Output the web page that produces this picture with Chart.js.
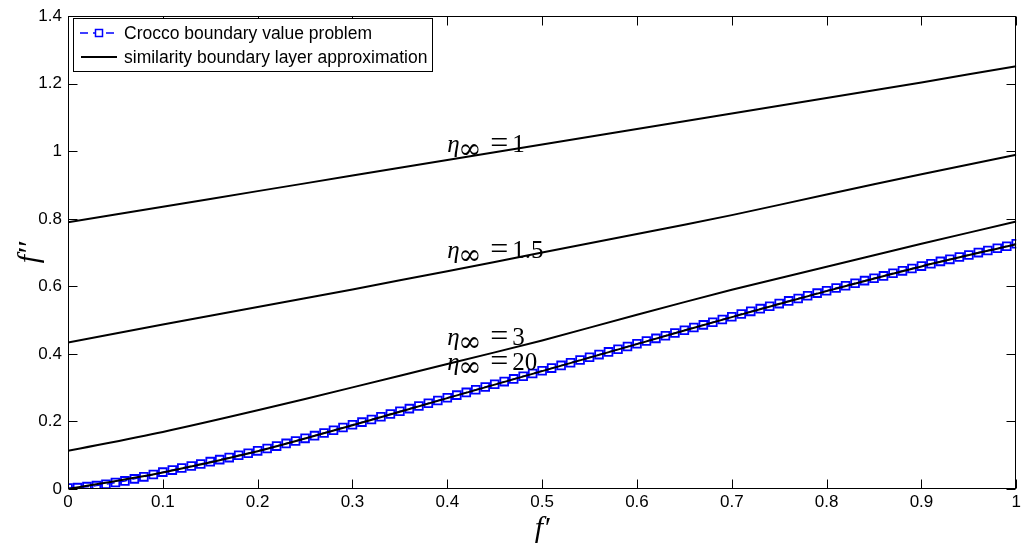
<!DOCTYPE html>
<html><head><meta charset="utf-8">
<script src="https://cdn.jsdelivr.net/npm/chart.js@4.4.0/dist/chart.umd.min.js"></script>
<style>html,body{margin:0;padding:0;background:#fff}#wrap{width:1024px;height:549px}</style>
</head><body><div id="wrap"><canvas id="c" width="1024" height="549"></canvas></div>
<script>
// ---------- data ----------
const fPrime = [0,0.1,0.2,0.3,0.4,0.5,0.6,0.7,0.8,0.9,1];
const eta1   = [0.790,0.836,0.882,0.928,0.974,1.020,1.066,1.112,1.158,1.204,1.252];
const eta15  = [0.434,0.487,0.539,0.591,0.645,0.700,0.755,0.811,0.872,0.932,0.990];
const eta3   = [0.113,0.169,0.233,0.301,0.370,0.440,0.516,0.590,0.658,0.726,0.792];
const eta20  = [0.000,0.049,0.112,0.189,0.269,0.349,0.429,0.509,0.586,0.659,0.725];

const croccoX = [0,0.01,0.02,0.03,0.04,0.05,0.06,0.07,0.08,0.09,
  0.10,0.11,0.12,0.13,0.14,0.15,0.16,0.17,0.18,0.19,
  0.20,0.21,0.22,0.23,0.24,0.25,0.26,0.27,0.28,0.29,
  0.30,0.31,0.32,0.33,0.34,0.35,0.36,0.37,0.38,0.39,
  0.40,0.41,0.42,0.43,0.44,0.45,0.46,0.47,0.48,0.49,
  0.50,0.51,0.52,0.53,0.54,0.55,0.56,0.57,0.58,0.59,
  0.60,0.61,0.62,0.63,0.64,0.65,0.66,0.67,0.68,0.69,
  0.70,0.71,0.72,0.73,0.74,0.75,0.76,0.77,0.78,0.79,
  0.80,0.81,0.82,0.83,0.84,0.85,0.86,0.87,0.88,0.89,
  0.90,0.91,0.92,0.93,0.94,0.95,0.96,0.97,0.98,0.99,1.00];
const croccoY = [0.003,0.004,0.007,0.010,0.014,0.019,0.024,0.030,0.036,0.043,
  0.050,0.056,0.062,0.068,0.074,0.081,0.087,0.093,0.100,0.106,
  0.113,0.120,0.127,0.135,0.142,0.150,0.158,0.166,0.174,0.182,
  0.190,0.198,0.206,0.214,0.222,0.230,0.238,0.246,0.254,0.262,
  0.270,0.278,0.286,0.294,0.302,0.310,0.318,0.326,0.334,0.342,
  0.350,0.358,0.366,0.374,0.382,0.390,0.398,0.406,0.414,0.422,
  0.430,0.438,0.446,0.454,0.462,0.470,0.478,0.486,0.494,0.502,
  0.510,0.518,0.526,0.534,0.541,0.549,0.557,0.564,0.572,0.580,
  0.587,0.595,0.602,0.609,0.617,0.624,0.631,0.639,0.646,0.653,
  0.660,0.667,0.674,0.680,0.687,0.693,0.700,0.706,0.713,0.719,0.726];

const xTicks = [0,0.1,0.2,0.3,0.4,0.5,0.6,0.7,0.8,0.9,1];
const xTickLabels = ['0','0.1','0.2','0.3','0.4','0.5','0.6','0.7','0.8','0.9','1'];
const yTicks = [0,0.2,0.4,0.6,0.8,1,1.2,1.4];
const yTickLabels = ['0','0.2','0.4','0.6','0.8','1','1.2','1.4'];

const etaValues = ['1','1.5','3','20'];
const etaLabelX = [0.4,0.4,0.4,0.4];
const etaLabelY = [0.999,0.684,0.427,0.351];

const legendLabels = ['Crocco boundary value problem','similarity boundary layer approximation'];
const xTitle = 'f\u2032';
const yTitle = 'f\u2032\u2032';

// ---------- build ----------
const pts = (xs, ys) => xs.map((x, i) => ({x, y: ys[i]}));
const blackLine = (label, ys) => ({
  label, data: pts(fPrime, ys), showLine: true, borderColor: '#000', borderWidth: 2,
  pointRadius: 0, tension: 0.3, fill: false, order: 1
});

const bgPlugin = {
  id: 'bg',
  beforeDraw(chart) {
    const c = chart.ctx; c.save(); c.fillStyle = '#fff'; c.fillRect(0, 0, chart.width, chart.height); c.restore();
  }
};

const framePlugin = {
  id: 'frame',
  afterDraw(chart) {
    const c = chart.ctx, a = chart.chartArea, xs = chart.scales.x, ys = chart.scales.y;
    c.save();
    c.strokeStyle = '#000'; c.lineWidth = 1;
    const L = Math.round(a.left) + 0.5, R = Math.round(a.right) - 0.5, T = Math.round(a.top) + 0.5, B = Math.round(a.bottom) - 0.5;
    c.strokeRect(L, T, R - L, B - T);
    const tl = 9;
    c.beginPath();
    xTicks.forEach(v => {
      const px = Math.round(xs.getPixelForValue(v)) + 0.5;
      c.moveTo(px, B); c.lineTo(px, B - tl);
      c.moveTo(px, T); c.lineTo(px, T + tl);
    });
    yTicks.forEach(v => {
      const py = Math.round(ys.getPixelForValue(v)) + 0.5;
      c.moveTo(L, py); c.lineTo(L + tl, py);
      c.moveTo(R, py); c.lineTo(R - tl, py);
    });
    c.stroke();

    // eta annotations
    c.fillStyle = '#000'; c.textBaseline = 'alphabetic'; c.textAlign = 'left';
    etaValues.forEach((val, i) => {
      const x = xs.getPixelForValue(etaLabelX[i]);
      const y = ys.getPixelForValue(etaLabelY[i]);
      c.font = 'italic 25px "Liberation Serif"';
      c.fillText('\u03b7', x, y);
      c.font = '28px "DejaVu Serif"';
      c.fillText('\u221e', x + 11, y + 6);
      c.font = '32px "Liberation Serif"';
      c.fillText('=', x + 43, y + 1);
      c.font = '25px "Liberation Serif"';
      c.fillText(val, x + 65, y);
    });

    // legend
    const lx = 73.5, ly = 18.5, lw = 359, lh = 53;
    c.fillStyle = '#fff'; c.fillRect(lx, ly, lw, lh);
    c.strokeStyle = '#000'; c.lineWidth = 1; c.strokeRect(lx, ly, lw, lh);
    const r1 = 33, r2 = 57;
    c.strokeStyle = '#0000ff'; c.lineWidth = 1.5; c.setLineDash([8, 5]);
    c.beginPath(); c.moveTo(80, r1); c.lineTo(119, r1); c.stroke();
    c.setLineDash([]);
    c.fillStyle = '#fff'; c.fillRect(95.5, r1 - 3.5, 7, 7);
    c.strokeRect(95.5, r1 - 3.5, 7, 7);
    c.strokeStyle = '#000'; c.lineWidth = 2;
    c.beginPath(); c.moveTo(81, r2); c.lineTo(117, r2); c.stroke();
    c.fillStyle = '#000'; c.font = '17.5px "Liberation Sans"'; c.textBaseline = 'middle';
    c.fillText(legendLabels[0], 124, r1 + 1);
    c.fillText(legendLabels[1], 124, r2 + 1);
    c.restore();
  }
};

const tickFont = {family: '"Liberation Sans", Arial, sans-serif', size: 17};
const titleFont = {family: '"Liberation Serif", serif', size: 30, style: 'italic'};

new Chart(document.getElementById('c'), {
  type: 'scatter',
  data: {
    datasets: [
      {label: legendLabels[0], data: pts(croccoX, croccoY), showLine: true, borderColor: '#0000ff',
       borderWidth: 1.5, borderDash: [8, 5], pointStyle: 'rect', pointRadius: 5.5, pointBorderColor: '#0000ff',
       pointBackgroundColor: 'rgba(0,0,0,0)', pointBorderWidth: 1.8, fill: false, order: 5},
      blackLine(legendLabels[1] + ' 1', eta1),
      blackLine(legendLabels[1] + ' 1.5', eta15),
      blackLine(legendLabels[1] + ' 3', eta3),
      blackLine(legendLabels[1] + ' 20', eta20)
    ]
  },
  options: {
    responsive: false, animation: false, devicePixelRatio: 1,
    layout: {padding: {left: 0, right: 7, top: 14, bottom: 0}},
    plugins: {legend: {display: false}, tooltip: {enabled: false}},
    scales: {
      x: {
        type: 'linear', min: 0, max: 1,
        afterBuildTicks: s => { s.ticks = xTicks.map(v => ({value: v})); },
        afterFit: s => { s.height = 60; },
        ticks: {callback: (v, i) => xTickLabels[i], font: tickFont, color: '#000', padding: 3, maxRotation: 0, autoSkip: false},
        grid: {display: false, drawTicks: false}, border: {display: false},
        title: {display: true, text: xTitle, font: titleFont, color: '#000', padding: {top: 0, bottom: 2}}
      },
      y: {
        type: 'linear', min: 0, max: 1.4,
        afterBuildTicks: s => { s.ticks = yTicks.map(v => ({value: v})); },
        afterFit: s => { s.width = 68; },
        ticks: {callback: (v, i) => yTickLabels[i], font: tickFont, color: '#000', padding: 6, autoSkip: false},
        grid: {display: false, drawTicks: false}, border: {display: false},
        title: {display: true, text: yTitle, font: titleFont, color: '#000', padding: {top: 12, bottom: 0}}
      }
    }
  },
  plugins: [bgPlugin, framePlugin]
});
</script>
</body></html>
